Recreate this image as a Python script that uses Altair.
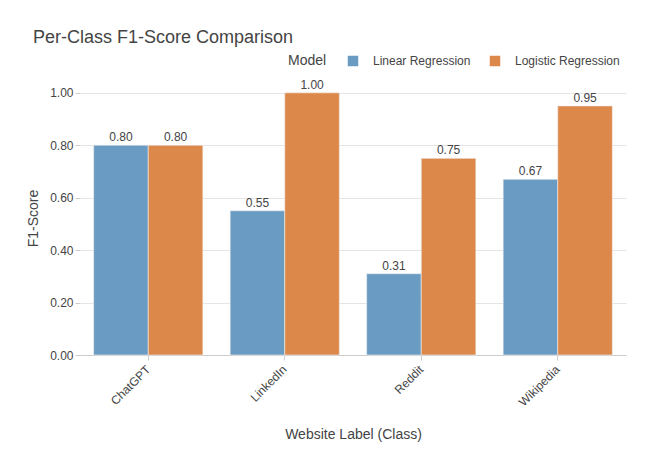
import altair as alt
import pandas as pd

classes = ["ChatGPT", "LinkedIn", "Reddit", "Wikipedia"]
linear_f1 = [0.80, 0.55, 0.31, 0.67]
logistic_f1 = [0.80, 1.00, 0.75, 0.95]
models = ["Linear Regression", "Logistic Regression"]
colors = ["#6a9bc3", "#dc884a"]

rows = []
for c, a, b in zip(classes, linear_f1, logistic_f1):
    rows.append({"Class": c, "Model": models[0], "F1": a})
    rows.append({"Class": c, "Model": models[1], "F1": b})
df = pd.DataFrame(rows)

FONT = "Liberation Sans"
TXT = "#444444"

base = alt.Chart(df).encode(
    x=alt.X("Class:N", sort=classes,
            scale=alt.Scale(paddingInner=0.2, paddingOuter=0.1),
            axis=alt.Axis(title="Website Label (Class)", labelAngle=-45, labelAlign="right",
                          labelBaseline="middle", labelPadding=7, tickSize=5, tickColor="#cccccc",
                          domainColor="#cccccc", labelFontSize=12, titleFontSize=14,
                          titleFontWeight="normal", titleColor=TXT, labelColor=TXT,
                          titlePadding=19, grid=False)),
    xOffset=alt.XOffset("Model:N", sort=models),
    y=alt.Y("F1:Q", scale=alt.Scale(domain=[0, 1.045], nice=False),
            axis=alt.Axis(title="F1-Score", format=".2f", values=[0, 0.2, 0.4, 0.6, 0.8, 1.0],
                          tickSize=5, tickColor="#cccccc", domain=False, gridColor="#e5e5e5",
                          labelFontSize=12, titleFontSize=14, titleFontWeight="normal",
                          titleColor=TXT, labelColor=TXT, labelPadding=2, titlePadding=9)),
)

bars = base.mark_bar(stroke="#f0f0f0", strokeWidth=0.6).encode(
    color=alt.Color("Model:N", sort=models, scale=alt.Scale(domain=models, range=colors),
                    legend=alt.Legend(title="Model", orient="none", legendX=208, legendY=-26,
                                      direction="horizontal", titleOrient="left",
                                      symbolType="square", symbolSize=110, symbolStrokeWidth=0,
                                      labelFontSize=12, titleFontSize=14, titleFontWeight="normal",
                                      titleColor=TXT, labelColor=TXT, columnPadding=18,
                                      labelOffset=14, titlePadding=20))
)

labels = base.mark_text(dy=-8, fontSize=12, color=TXT, font=FONT).encode(
    text=alt.Text("F1:Q", format=".2f")
)

chart = (bars + labels).properties(
    width=546, height=274,
    autosize=alt.AutoSizeParams(type="none"),
    padding={"left": 80, "top": 81, "right": 39, "bottom": 95},
    title=alt.TitleParams("Per-Class F1-Score Comparison", anchor="start", frame="group", dx=-47,
                          fontSize=18, fontWeight="normal", color=TXT, font=FONT, offset=8),
).configure(font=FONT).configure_view(stroke=None)

chart.save("out.html", embed_options={"renderer": "svg", "actions": False})
